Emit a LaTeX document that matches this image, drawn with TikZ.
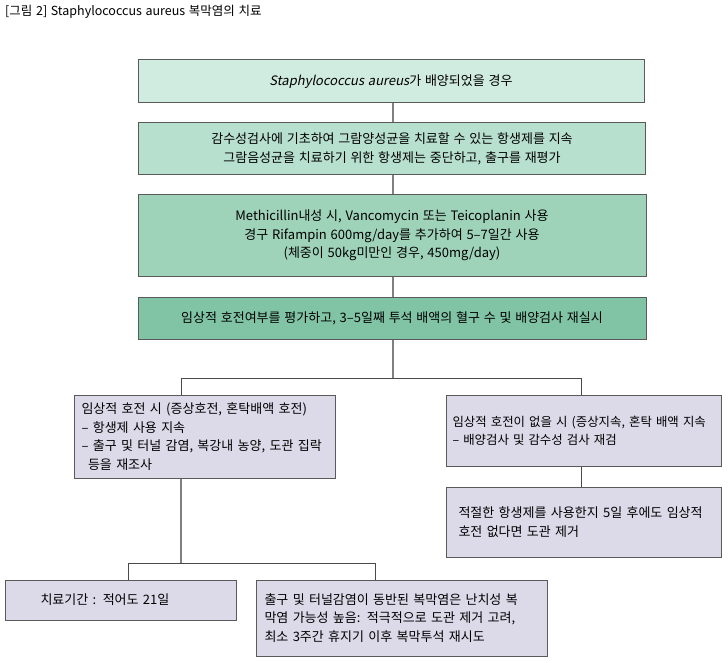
\documentclass[tikz,border=0pt]{standalone}
\usepackage{fontspec}
\setmainfont[WordSpace=1.3]{Noto Sans CJK KR}
\newfontfamily\slfont[FakeSlant=0.2,WordSpace=1.3]{Noto Sans CJK KR}
\definecolor{cA}{HTML}{D0EBDF}
\definecolor{cB}{HTML}{B8E0CE}
\definecolor{cC}{HTML}{9ED3BA}
\definecolor{cD}{HTML}{80C4A5}
\definecolor{lav}{HTML}{DCDAE9}
\definecolor{bord}{HTML}{5A5A5A}
\definecolor{stemc}{HTML}{808080}
\definecolor{barc}{HTML}{4A4A4A}
\begin{document}
\begin{tikzpicture}[x=1pt,y=-1pt,
  boxbase/.style={draw=bord, line width=1pt, inner sep=0pt, font=\fontsize{13}{18.6}\selectfont},
  greenbox/.style={boxbase, align=center},
  lavbox/.style={boxbase, fill=lav, align=left, anchor=north west},
  stem/.style={draw=stemc, line width=1.6pt},
  bar/.style={draw=barc, line width=0.9pt}]
\useasboundingbox (0,0) rectangle (728,663);
\node[anchor=west, font=\fontsize{12.5}{14}\selectfont, inner sep=0pt] (title) at (5,12) {[그림 2] Staphylococcus aureus 복막염의 치료};

\node[greenbox, fill=cA, minimum width=506pt, minimum height=43pt] (b1) at (391,81.5)
  {{\slfont Staphylococcus aureus}가 배양되었을 경우};
\node[greenbox, fill=cB, minimum width=507pt, minimum height=52pt] (b2) at (392,149)
  {감수성검사에 기초하여 그람양성균을 치료할 수 있는 항생제를 지속\\그람음성균을 치료하기 위한 항생제는 중단하고, 출구를 재평가};
\node[greenbox, fill=cC, minimum width=508pt, minimum height=82pt] (b3) at (392,235.5)
  {Methicillin내성 시, Vancomycin 또는 Teicoplanin 사용\\경구 Rifampin 600mg/day를 추가하여 5–7일간 사용\\(체중이 50kg미만인 경우, 450mg/day)};
\node[greenbox, fill=cD, minimum width=508pt, minimum height=42pt] (b4) at (392,318)
  {임상적 호전여부를 평가하고, 3–5일째 투석 배액의 혈구 수 및 배양검사 재실시};

\node[lavbox, minimum width=261pt, minimum height=83pt, text width=247pt, inner xsep=7pt, inner ysep=0pt, anchor=west] (b5) at (74,436.5)
  {임상적 호전 시 (증상호전, 혼탁배액 호전)\\– 항생제 사용 지속\\– 출구 및 터널 감염, 복강내 농양, 도관 집락\\\hspace*{0.5em}등을 재조사};
\node[lavbox, minimum width=275pt, minimum height=71pt, text width=263pt, inner xsep=6pt, inner ysep=0pt, anchor=west, font=\fontsize{12.4}{18.2}\selectfont] (b6) at (446,430.5)
  {\mbox{임상적 호전이 없을 시 (증상지속, 혼탁 배액 지속}\\– 배양검사 및 감수성 검사 재검};
\node[lavbox, minimum width=275pt, minimum height=70pt, text width=251pt, inner xsep=12pt, inner ysep=0pt, anchor=west] (b7) at (446,522)
  {적절한 항생제를 사용한지 5일 후에도 임상적\\호전 없다면 도관 제거};
\node[lavbox, minimum width=231pt, minimum height=40pt, text width=161pt, inner xsep=35pt, inner ysep=0pt, anchor=west] (b8) at (5,600)
  {치료기간 : 적어도 21일};
\node[lavbox, minimum width=291pt, minimum height=76pt, text width=275pt, inner xsep=8pt, inner ysep=0pt, anchor=west] (b9) at (256,618)
  {출구 및 터널감염이 동반된 복막염은 난치성 복\\막염 가능성 높음: 적극적으로 도관 제거 고려,\\최소 3주간 휴지기 이후 복막투석 재시도};

\coordinate (jt) at (393,378);
\coordinate (jl) at (181,378);
\coordinate (jr) at (581,378);
\coordinate (kt) at (181,563);
\coordinate (kl) at (128,563);
\coordinate (kr) at (375,563);

\draw[stem] (b1.south -| jt) -- (b2.north -| jt);
\draw[stem] (b2.south -| jt) -- (b3.north -| jt);
\draw[stem] (b3.south -| jt) -- (b4.north -| jt);
\draw[stem] (b4.south -| jt) -- (jt);
\draw[bar] (jl) -- (jr);
\draw[bar] (jl) -- (jl |- b5.north);
\draw[bar] (jr) -- (jr |- b6.north);
\draw[bar] (b6.south -| jr) -- (b7.north -| jr);
\draw[stem] (b5.south -| kt) -- (kt);
\draw[bar] (kl) -- (kr);
\draw[bar] (kl) -- (kl |- b8.north);
\draw[bar] (kr) -- (kr |- b9.north);
\end{tikzpicture}
\end{document}
